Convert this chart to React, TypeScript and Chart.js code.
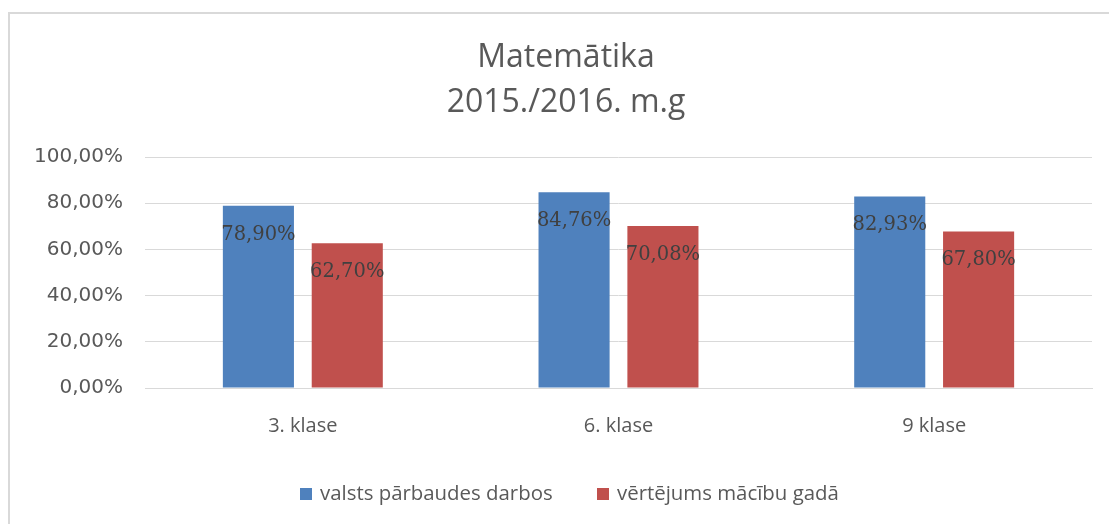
import React, { useEffect, useRef } from "react";
import { Chart, registerables } from "chart.js";

Chart.register(...registerables);

const categories = ["3. klase", "6. klase", "9 klase"];
const seriesNames = ["valsts pārbaudes darbos", "vērtējums mācību gadā"];
const stateTestsValues = [78.9, 84.76, 82.93];
const yearGrades = [62.7, 70.08, 67.8];
const seriesColors = ["#4f81bd", "#c0504d"];
const titleLines = ["Matemātika", "2015./2016. m.g"];
const yTicks = [0, 20, 40, 60, 80, 100];

const fmt = (v: number) => v.toFixed(2).replace(".", ",") + "%";

const overlayPlugin = {
  id: "overlay",
  afterDatasetsDraw(chart: any) {
    const ctx = chart.ctx;
    ctx.save();
    ctx.font = "19.5px 'DejaVu Serif'";
    ctx.fillStyle = "#404040";
    ctx.textAlign = "center";
    ctx.textBaseline = "middle";
    chart.data.datasets.forEach((ds: any, di: number) => {
      const meta = chart.getDatasetMeta(di);
      meta.data.forEach((el: any, i: number) => {
        ctx.fillText(fmt(ds.data[i]), el.x, el.y + 29);
      });
    });
    ctx.restore();
  },
  afterDraw(chart: any) {
    const ctx = chart.ctx;
    ctx.save();
    ctx.fillStyle = "#595959";
    ctx.textAlign = "center";
    ctx.textBaseline = "middle";
    ctx.font = "32px 'Open Sans'";
    ctx.fillText(titleLines[0], 556, 44);
    ctx.fillText(titleLines[1], 556, 89);
    ctx.font = "20.4px 'Open Sans'";
    ctx.textAlign = "left";
    const boxX = [290, 587];
    seriesNames.forEach((name, i) => {
      ctx.fillStyle = seriesColors[i];
      ctx.fillRect(boxX[i], 474, 12, 12);
      ctx.fillStyle = "#595959";
      ctx.fillText(name, boxX[i] + 20, 480);
    });
    ctx.restore();
  },
};

export default function App() {
  const ref = useRef<HTMLCanvasElement | null>(null);
  useEffect(() => {
    if (!ref.current) return;
    const chart = new Chart(ref.current, {
      type: "bar",
      data: {
        labels: categories,
        datasets: [
          {
            label: seriesNames[0],
            data: stateTestsValues,
            backgroundColor: seriesColors[0],
            categoryPercentage: 0.563,
            barPercentage: 0.8,
          },
          {
            label: seriesNames[1],
            data: yearGrades,
            backgroundColor: seriesColors[1],
            categoryPercentage: 0.563,
            barPercentage: 0.8,
          },
        ],
      },
      options: {
        responsive: false,
        animation: false,
        layout: { padding: { left: 0, right: 17, top: 143, bottom: 86 } },
        plugins: {
          legend: { display: false },
          title: { display: false },
          tooltip: { enabled: false },
        },
        scales: {
          x: {
            grid: { display: false, drawTicks: false },
            border: { color: "#d9d9d9", width: 1 },
            ticks: {
              color: "#595959",
              font: { family: "'Open Sans'", size: 20 },
              padding: 26,
            },
            afterFit: (s: any) => {
              s.height = 50;
            },
          },
          y: {
            min: 0,
            max: 100,
            afterBuildTicks: (s: any) => {
              s.ticks = yTicks.map((v) => ({ value: v }));
            },
            grid: { color: "#d9d9d9", lineWidth: 1, drawTicks: false },
            border: { display: false },
            ticks: {
              color: "#595959",
              font: { family: "'DejaVu Sans'", size: 20 },
              padding: 22,
              callback: (v: any) => fmt(Number(v)),
            },
            afterFit: (s: any) => {
              s.width = 135;
            },
          },
        },
      },
      plugins: [overlayPlugin],
    });
    return () => chart.destroy();
  }, []);
  return (
    <div
      style={{
        position: "absolute",
        left: 8,
        top: 12,
        width: 1101,
        height: 512,
        borderTop: "2px solid #d9d9d9",
        borderLeft: "2px solid #d9d9d9",
        boxSizing: "border-box",
        background: "#fff",
      }}
    >
      <canvas ref={ref} width={1099} height={510} style={{ display: "block" }} />
    </div>
  );
}
